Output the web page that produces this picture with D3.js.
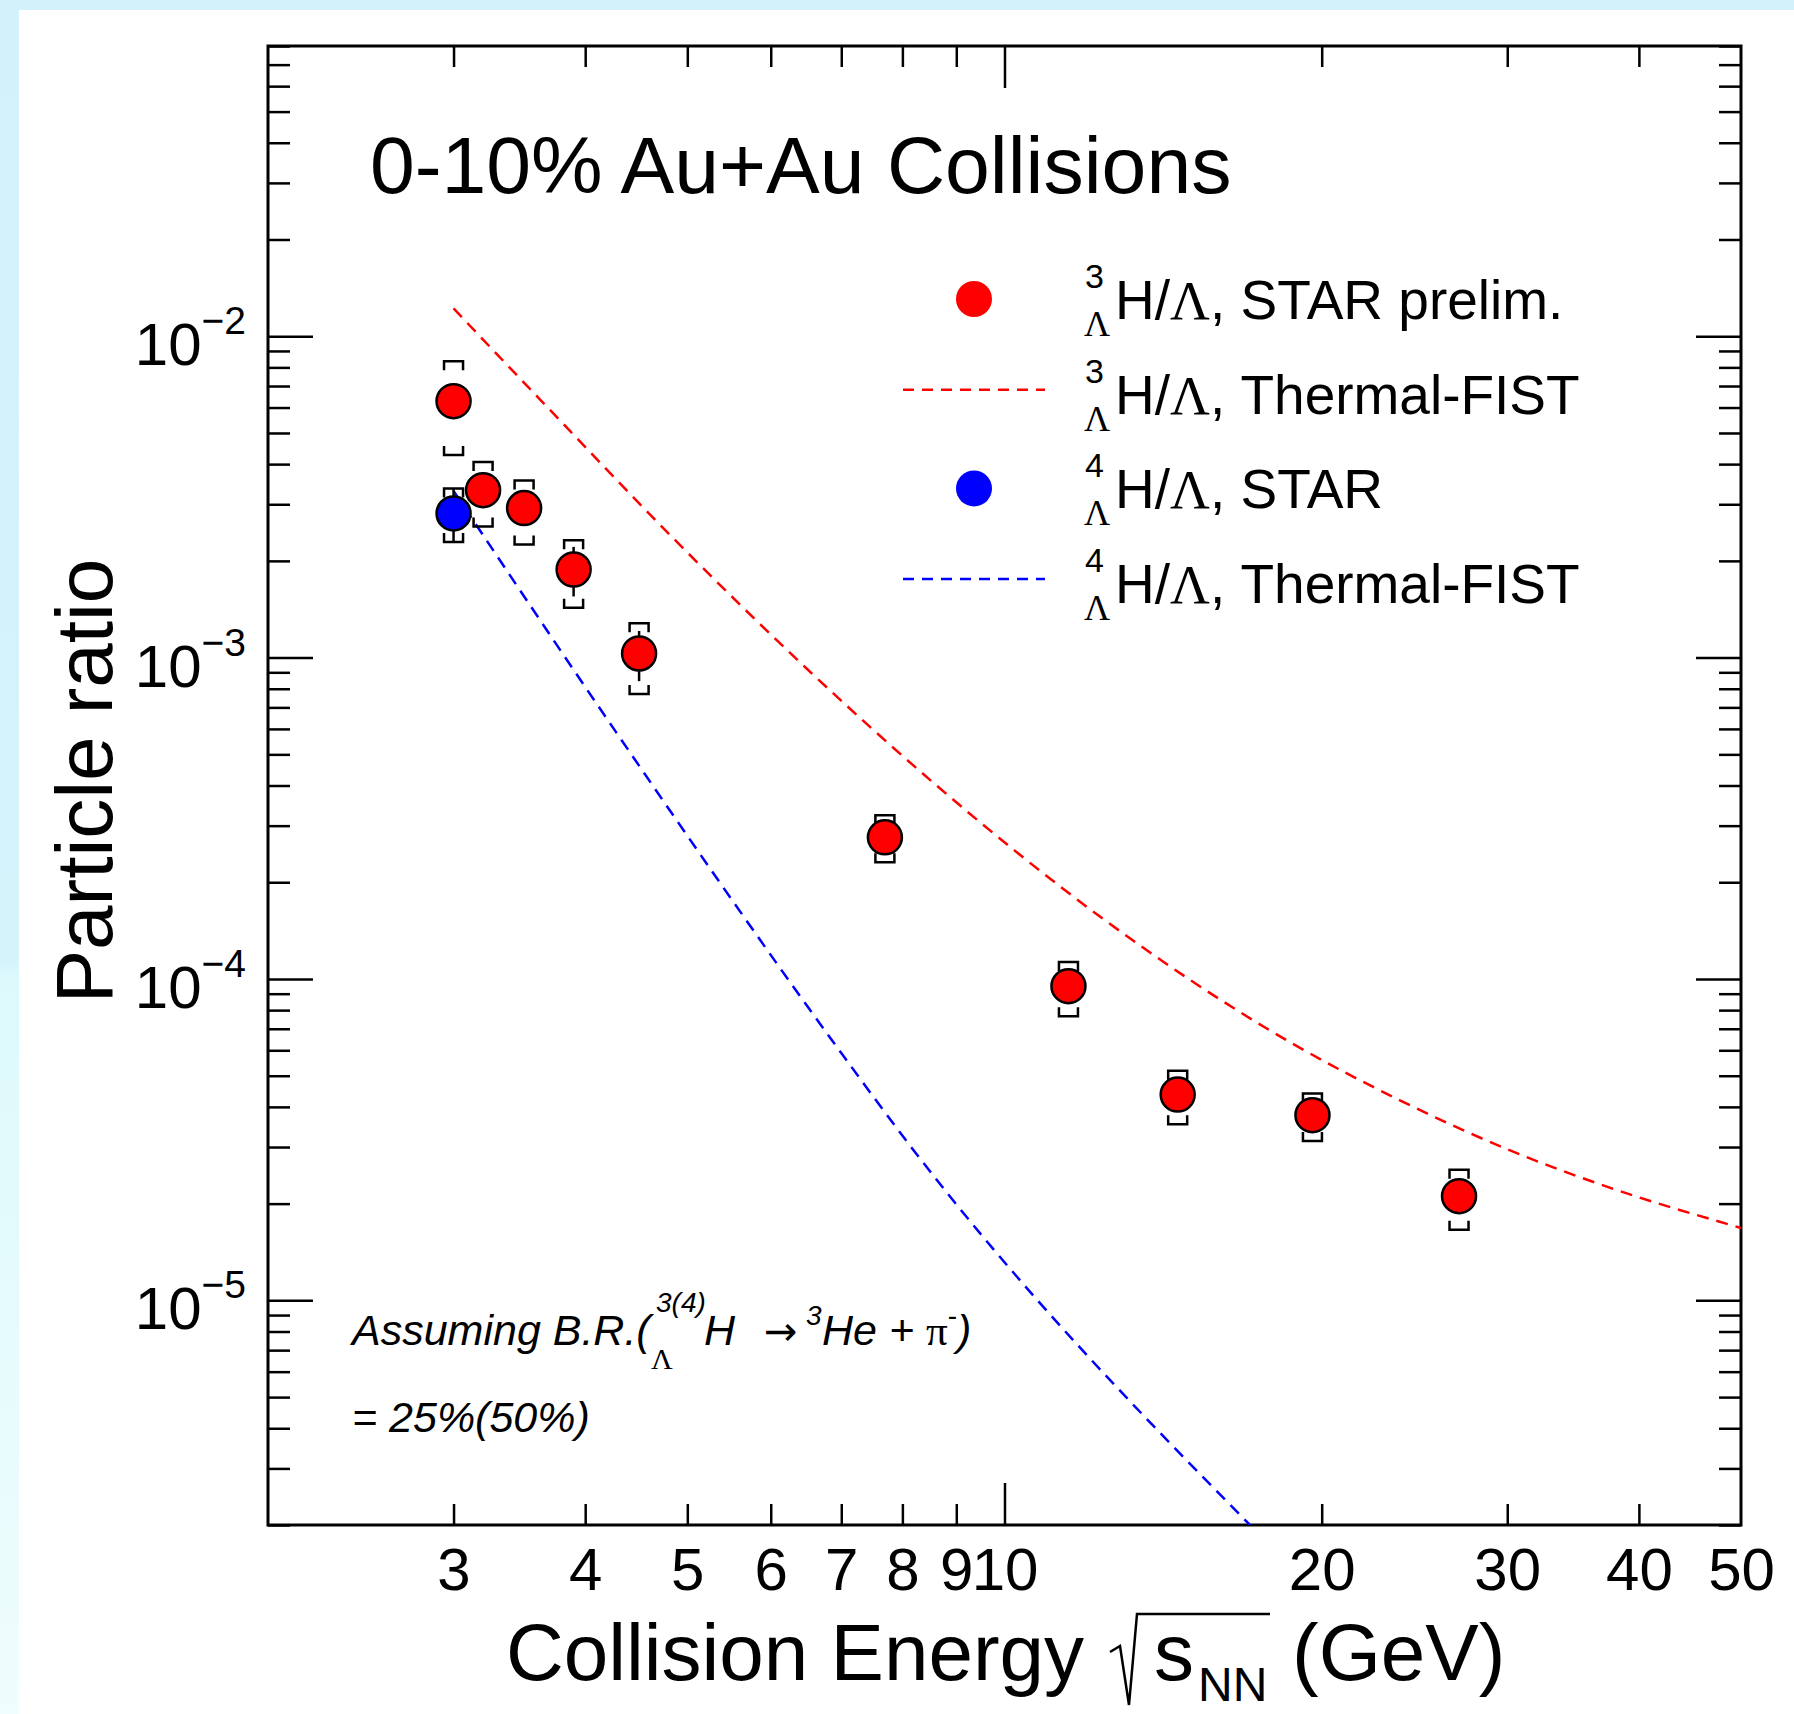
<!DOCTYPE html>
<html>
<head>
<meta charset="utf-8">
<script src="https://cdn.jsdelivr.net/npm/d3@7"></script>
<style>
  body { margin: 0; background: #fff; }
  svg { display: block; }
  text { font-family: "Liberation Sans", Arial, sans-serif; fill: #000; }
  .serif { font-family: "Liberation Serif", "DejaVu Serif", serif; }
</style>
</head>
<body>
<svg id="chart" width="1794" height="1714"></svg>
<script>
// ---- data ----
// 3-Lambda-H / Lambda, STAR prelim. (red)
var energy3 = [3.0, 3.2, 3.5, 3.9, 4.5, 7.7, 11.5, 14.6, 19.6, 27];
var ratio3  = [6.28e-3, 3.32e-3, 2.92e-3, 1.88e-3, 1.03e-3, 2.76e-4, 9.5e-5, 4.37e-5, 3.77e-5, 2.11e-5];
var statHi3 = [6.8e-3, 3.55e-3, 3.1e-3, 2.21e-3, 1.21e-3, 2.95e-4, 1.0e-4, 4.6e-5, 3.95e-5, 2.22e-5];
var statLo3 = [5.8e-3, 3.1e-3, 2.75e-3, 1.55e-3, 8.45e-4, 2.58e-4, 9.0e-5, 4.15e-5, 3.6e-5, 2.0e-5];
var sysHi3  = [8.36e-3, 4.06e-3, 3.56e-3, 2.32e-3, 1.28e-3, 3.23e-4, 1.13e-4, 5.18e-5, 4.40e-5, 2.55e-5];
var sysLo3  = [4.27e-3, 2.56e-3, 2.25e-3, 1.43e-3, 7.7e-4, 2.31e-4, 7.66e-5, 3.53e-5, 3.13e-5, 1.66e-5];

// 4-Lambda-H / Lambda, STAR (blue)
var energy4 = [3.0];
var ratio4  = [2.81e-3];
var statHi4 = [3.36e-3];
var statLo4 = [2.29e-3];
var sysHi4  = [3.36e-3];
var sysLo4  = [2.29e-3];

// Thermal-FIST curves
var fist3E = [3.0, 3.63, 4.85, 6.5, 8.59, 12.3, 18.6, 23.7, 30.8, 36.7, 50];
var fist3R = [1.22e-2, 6.32e-3, 2.35e-3, 9.2e-4, 4.04e-4, 1.57e-4, 6.4e-5, 4.2e-5, 2.85e-5, 2.3e-5, 1.68e-5];
var fist4E = [3.0, 4.26, 6.98, 8.05, 17.1, 20];
var fist4R = [3.30e-3, 5.99e-4, 5.96e-5, 3.17e-5, 2.0e-6, 1.2e-6];

// axis tick labels
var xLabels = [3, 4, 5, 6, 7, 8, 9, 10, 20, 30, 40, 50];
var yLabelExp = [-5, -4, -3, -2];

(function() {
// ---- layout ----
var W = 1794, H = 1714;
var fL = 268, fR = 1741, fT = 46, fB = 1525;

var svg = d3.select('#chart');
var defs = svg.append('defs');

var grad = defs.append('linearGradient').attr('id', 'band')
    .attr('x1', 0).attr('x2', 0).attr('y1', 0).attr('y2', 1);
grad.append('stop').attr('offset', '0').attr('stop-color', '#d2f1fb');
grad.append('stop').attr('offset', '0.56').attr('stop-color', '#d4f3fb');
grad.append('stop').attr('offset', '0.57').attr('stop-color', '#ddf9fc');
grad.append('stop').attr('offset', '1').attr('stop-color', '#effdfd');

svg.append('rect').attr('width', W).attr('height', H).attr('fill', 'url(#band)');
svg.append('rect').attr('x', 19).attr('y', 10).attr('width', W - 19).attr('height', H - 10).attr('fill', '#fff');

defs.append('clipPath').attr('id', 'frameclip')
  .append('rect').attr('x', fL).attr('y', fT)
  .attr('width', fR - fL).attr('height', fB - fT);

var x = d3.scaleLog().domain([2, 50]).range([fL, fR]);
var y = d3.scaleLog().domain([2e-6, 0.08]).range([fB, fT]);

// ---- ticks ----
var xMajor = [10];
var xMinor = x.ticks().filter(function(v) { return v !== 10 && v > 2 && v < 50; });
var yAll = y.ticks();
var yMajor = yAll.filter(function(v) { return Math.abs(Math.log10(v) - Math.round(Math.log10(v))) < 1e-9; });
var yMinor = yAll.filter(function(v) { return yMajor.indexOf(v) < 0; });

function tickStyle(g) {
  g.select('.domain').remove();
  g.selectAll('.tick line').attr('stroke', '#000').attr('stroke-width', 2.5);
}

svg.append('g').attr('transform', 'translate(0,' + fB + ')')
  .call(d3.axisBottom(x).tickValues(xMinor).tickSize(-21).tickFormat('')).call(tickStyle);
svg.append('g').attr('transform', 'translate(0,' + fB + ')')
  .call(d3.axisBottom(x).tickValues(xMajor).tickSize(-42).tickFormat('')).call(tickStyle);
svg.append('g').attr('transform', 'translate(0,' + fT + ')')
  .call(d3.axisTop(x).tickValues(xMinor).tickSize(-21).tickFormat('')).call(tickStyle);
svg.append('g').attr('transform', 'translate(0,' + fT + ')')
  .call(d3.axisTop(x).tickValues(xMajor).tickSize(-42).tickFormat('')).call(tickStyle);

svg.append('g').attr('transform', 'translate(' + fL + ',0)')
  .call(d3.axisLeft(y).tickValues(yMinor).tickSize(-22).tickFormat('')).call(tickStyle);
svg.append('g').attr('transform', 'translate(' + fL + ',0)')
  .call(d3.axisLeft(y).tickValues(yMajor).tickSize(-45).tickFormat('')).call(tickStyle);
svg.append('g').attr('transform', 'translate(' + fR + ',0)')
  .call(d3.axisRight(y).tickValues(yMinor).tickSize(-22).tickFormat('')).call(tickStyle);
svg.append('g').attr('transform', 'translate(' + fR + ',0)')
  .call(d3.axisRight(y).tickValues(yMajor).tickSize(-45).tickFormat('')).call(tickStyle);

// x tick labels
var xLab = svg.append('g').attr('transform', 'translate(0,' + fB + ')')
  .call(d3.axisBottom(x).tickValues(xLabels).tickSize(0).tickPadding(0).tickFormat(d3.format('d')));
xLab.select('.domain').remove();
xLab.selectAll('text').attr('font-size', 60).attr('dy', null).attr('y', 65)
  .attr('font-family', '"Liberation Sans", Arial, sans-serif').attr('fill', '#000');

// y tick labels (10^n)
var yLab = svg.append('g');
yLabelExp.forEach(function(e) {
  var t = yLab.append('text').attr('x', 246).attr('y', y(Math.pow(10, e)) + 29)
    .attr('text-anchor', 'end').attr('font-size', 60);
  t.append('tspan').text('10');
  t.append('tspan').attr('dy', -31).attr('font-size', 39).text('\u2212' + Math.abs(e));
});

// frame
svg.append('rect').attr('x', fL).attr('y', fT)
  .attr('width', fR - fL).attr('height', fB - fT)
  .attr('fill', 'none').attr('stroke', '#000').attr('stroke-width', 3);

// ---- curves ----
var line = d3.line()
  .x(function(d) { return x(d[0]); })
  .y(function(d) { return y(d[1]); })
  .curve(d3.curveMonotoneX);

var plot = svg.append('g').attr('clip-path', 'url(#frameclip)');
plot.append('path').datum(d3.zip(fist3E, fist3R)).attr('d', line)
  .attr('fill', 'none').attr('stroke', '#ff0000').attr('stroke-width', 2.5).attr('stroke-dasharray', '12,8');
plot.append('path').datum(d3.zip(fist4E, fist4R)).attr('d', line)
  .attr('fill', 'none').attr('stroke', '#0000ff').attr('stroke-width', 2.5).attr('stroke-dasharray', '12,8');

// ---- data points ----
function drawSeries(E, R, sHi, sLo, stHi, stLo, color) {
  var pts = E.map(function(e, i) {
    return { e: e, r: R[i], sHi: sHi[i], sLo: sLo[i], stHi: stHi[i], stLo: stLo[i] };
  });
  var g = plot.append('g');
  var hw = 9.5, arm = 9;
  // systematic brackets
  g.selectAll('path.sys').data(pts).enter().append('path')
    .attr('d', function(d) {
      var cx = x(d.e), yt = y(d.sHi), yb = y(d.sLo);
      return 'M' + (cx - hw) + ',' + (yt + arm) + 'V' + yt + 'H' + (cx + hw) + 'V' + (yt + arm) +
             'M' + (cx - hw) + ',' + (yb - arm) + 'V' + yb + 'H' + (cx + hw) + 'V' + (yb - arm);
    })
    .attr('fill', 'none').attr('stroke', '#000').attr('stroke-width', 2.5);
  // statistical bars
  g.selectAll('line.stat').data(pts).enter().append('line')
    .attr('x1', function(d) { return x(d.e); }).attr('x2', function(d) { return x(d.e); })
    .attr('y1', function(d) { return y(d.stHi); }).attr('y2', function(d) { return y(d.stLo); })
    .attr('stroke', '#000').attr('stroke-width', 2.5);
  // markers
  g.selectAll('circle').data(pts).enter().append('circle')
    .attr('cx', function(d) { return x(d.e); })
    .attr('cy', function(d) { return y(d.r); })
    .attr('r', 17)
    .attr('fill', color).attr('stroke', '#000').attr('stroke-width', 2.5);
}
drawSeries(energy3, ratio3, sysHi3, sysLo3, statHi3, statLo3, '#ff0000');
drawSeries(energy4, ratio4, sysHi4, sysLo4, statHi4, statLo4, '#0000ff');

// ---- title ----
svg.append('text').attr('x', 370).attr('y', 193).attr('font-size', 80.5)
  .text('0-10% Au+Au Collisions');

// ---- legend ----
var legendItems = [
  { kind: 'marker', color: '#ff0000', a: '3', label: ', STAR prelim.' },
  { kind: 'line',   color: '#ff0000', a: '3', label: ', Thermal-FIST' },
  { kind: 'marker', color: '#0000ff', a: '4', label: ', STAR' },
  { kind: 'line',   color: '#0000ff', a: '4', label: ', Thermal-FIST' }
];
var leg = svg.append('g');
legendItems.forEach(function(d, i) {
  var base = 319 + i * 94.7;
  if (d.kind === 'marker') {
    leg.append('circle').attr('cx', 974).attr('cy', base - 20).attr('r', 18).attr('fill', d.color);
  } else {
    leg.append('line').attr('x1', 903).attr('x2', 1045).attr('y1', base - 24).attr('y2', base - 24)
      .attr('stroke', d.color).attr('stroke-width', 2.5).attr('stroke-dasharray', '11,8');
  }
  leg.append('text').attr('x', 1085).attr('y', base - 31).attr('font-size', 34).text(d.a);
  leg.append('text').attr('class', 'serif').attr('x', 1084).attr('y', base + 17).attr('font-size', 36).text('\u039B');
  var t = leg.append('text').attr('x', 1115).attr('y', base).attr('font-size', 55);
  t.append('tspan').text('H/');
  t.append('tspan').attr('class', 'serif').text('\u039B');
  t.append('tspan').text(d.label);
});

// ---- annotation ----
var ann = svg.append('g').attr('font-style', 'italic');
ann.append('text').attr('x', 352).attr('y', 1345).attr('font-size', 43).text('Assuming B.R.(');
ann.append('text').attr('x', 656).attr('y', 1312).attr('font-size', 28).text('3(4)');
ann.append('text').attr('class', 'serif').attr('x', 651).attr('y', 1369).attr('font-size', 30)
  .attr('font-style', 'normal').text('\u039B');
var a2 = ann.append('text').attr('x', 704).attr('y', 1345).attr('font-size', 43);
a2.append('tspan').text('H');
a2.append('tspan').attr('x', 764).attr('font-style', 'normal')
  .attr('font-family', '"DejaVu Sans", sans-serif').attr('font-size', 40).text('\u2192');
a2.append('tspan').attr('x', 806).attr('dy', -20).attr('font-size', 28).text('3');
a2.append('tspan').attr('x', 822).attr('dy', 20).text('He + ');
a2.append('tspan').attr('class', 'serif').attr('font-style', 'normal').text('\u03C0');
a2.append('tspan').attr('dy', -20).attr('font-size', 28).attr('font-style', 'normal').text('-');
a2.append('tspan').attr('dy', 20).text(')');
ann.append('text').attr('x', 352).attr('y', 1432).attr('font-size', 43).text('= 25%(50%)');

// ---- axis titles ----
svg.append('text').attr('transform', 'translate(112,781) rotate(-90)')
  .attr('text-anchor', 'middle').attr('font-size', 80).text('Particle ratio');

svg.append('text').attr('x', 506).attr('y', 1680).attr('font-size', 80).text('Collision Energy');
svg.append('path').attr('d', 'M1110,1652 L1120,1646 L1129,1705 L1137,1614 L1270,1614')
  .attr('fill', 'none').attr('stroke', '#000').attr('stroke-width', 2.5);
svg.append('text').attr('x', 1154).attr('y', 1680).attr('font-size', 80).text('s');
svg.append('text').attr('x', 1198).attr('y', 1701).attr('font-size', 48).text('NN');
svg.append('text').attr('x', 1292).attr('y', 1680).attr('font-size', 80).text('(GeV)');
})();
</script>
</body>
</html>
